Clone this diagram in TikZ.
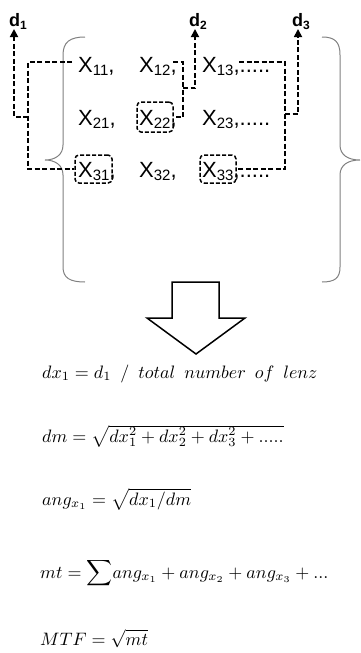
\documentclass[tikz,border=0pt]{standalone}
\usepackage{graphicx}
\usepackage[no-math]{fontspec}
\newfontfamily\arial{Liberation Sans}
\usetikzlibrary{arrows.meta}
\newcommand\xsub[1]{\raisebox{-3.5pt}{\fontsize{15}{15}\selectfont #1}}
\newcommand\dsub[1]{\raisebox{-3pt}{\fontsize{12}{12}\selectfont #1}}
\newcommand\wsp{\hspace{0.5em}}
\newcommand\eqbox[1]{\scalebox{1.8}{\fontsize{10}{12}\selectfont$#1$}}
\begin{document}
\begin{tikzpicture}[x=1pt,y=-1pt,
  xlab/.style={anchor=base west,inner sep=0pt,font=\arial\fontsize{22}{26}\selectfont},
  dlab/.style={anchor=base west,inner sep=0pt,font=\arial\bfseries\fontsize{18}{20}\selectfont},
  dl/.style={draw=black,line width=1.7pt,dash pattern=on 5pt off 2.5pt},
  dlarrow/.style={dl,-{Triangle[width=8pt,length=8pt]}},
  sel/.style={draw=black,line width=1.5pt,dash pattern=on 4pt off 2pt,rounded corners=4pt,inner sep=0pt},
  brace/.style={draw=gray,line width=1pt},
  eq/.style={anchor=base west,inner sep=0pt}]
\useasboundingbox (0,0) rectangle (360,653);

% braces
\draw[brace] (85,37) .. controls (70,37) and (63,42) .. (63,55) -- (63,145)
  .. controls (63,155) and (55,160) .. (45,160) .. controls (55,160) and (63,165) .. (63,175)
  -- (63,267) .. controls (63,278) and (70,282) .. (85,282);
\draw[brace] (322,37) .. controls (335,37) and (340,42) .. (340,55) -- (340,145)
  .. controls (340,155) and (348,160) .. (360,160) .. controls (348,160) and (340,165) .. (340,175)
  -- (340,267) .. controls (340,278) and (335,282) .. (322,282);

% matrix entries
\node[xlab] (x11) at (78,72) {X\xsub{11},};
\node[xlab] (x12) at (139,72) {X\xsub{12},};
\node[xlab] (x13) at (202,72) {X\xsub{13},.....};
\node[xlab] (x21) at (78,125) {X\xsub{21},};
\node[xlab] (x22) at (139,125) {X\xsub{22},};
\node[xlab] (x23) at (202,125) {X\xsub{23},.....};
\node[xlab] (x31) at (78,177) {X\xsub{31},};
\node[xlab] (x32) at (139,177) {X\xsub{32},};
\node[xlab] (x33) at (202,177) {X\xsub{33},.....};

% selection boxes
\node[sel,minimum width=36pt,minimum height=30pt] (b22) at (155,117) {};
\node[sel,minimum width=37pt,minimum height=28pt] (b31) at (93.5,169) {};
\node[sel,minimum width=36pt,minimum height=28pt] (b33) at (218,169) {};

% labels
\node[dlab] (d1) at (9,26) {d\dsub{1}};
\node[dlab] (d2) at (189,26) {d\dsub{2}};
\node[dlab] (d3) at (292,26) {d\dsub{3}};

% connector points
\coordinate (e11) at (72,62);
\coordinate (e12) at (173,62);
\coordinate (e13) at (239,62);
\coordinate (j1) at (28,117);
\coordinate (j2) at (183,88);
\coordinate (j3) at (285,114);
\coordinate (t1) at (14,29);
\coordinate (t2) at (195,29);
\coordinate (t3) at (298,29);

\draw[dl] (e11) -- (28,62) |- (b31.west);
\draw[dlarrow] (j1) -| (t1);
\draw[dl] (e12) -- (183,62) |- (b22.east);
\draw[dlarrow] (j2) -| (t2);
\draw[dl] (e13) -- (285,62) |- (b33.east);
\draw[dlarrow] (j3) -| (t3);

% block arrow
\draw[line width=1.5pt,line join=miter] (172,282) -- (219,282) -- (219,318) -- (245,318)
  -- (196,354) -- (147,318) -- (172,318) -- cycle;

% equations
\node[eq] (eq1) at (42,378) {\eqbox{dx_1 = d_1\wsp/\wsp total\wsp number\wsp of\wsp lenz}};
\node[eq] (eq2) at (42,442) {\eqbox{dm = \sqrt{dx_1^2 + dx_2^2 + dx_3^2 + .....}}};
\node[eq] (eq3) at (42,505) {\eqbox{ang_{x_1} = \sqrt{dx_1/dm}}};
\node[eq] (eq4) at (40,578) {\eqbox{mt = {\displaystyle\sum} ang_{x_1} + ang_{x_2} + ang_{x_3} + ...}};
\node[eq] (eq5) at (40,645) {\eqbox{MTF= \sqrt{mt}}};
\end{tikzpicture}
\end{document}
